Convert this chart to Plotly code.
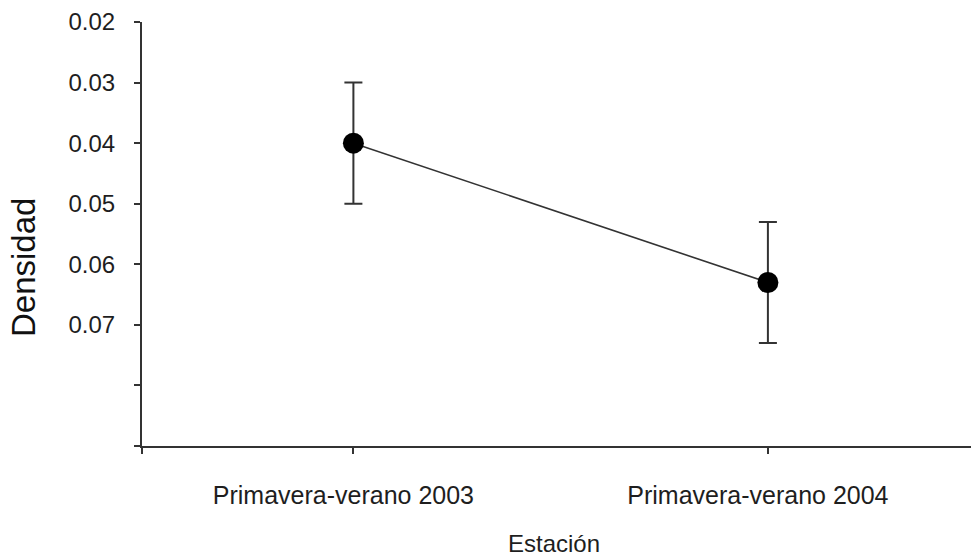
import plotly.graph_objects as go

# ---- data ----
categories = ["Primavera-verano 2003", "Primavera-verano 2004"]
densidad = [0.040, 0.063]
error = [0.010, 0.010]
y_tick_values = [0.02, 0.03, 0.04, 0.05, 0.06, 0.07, 0.08, 0.09]
y_tick_labels = ["0.02", "0.03", "0.04", "0.05", "0.06", "0.07", "", ""]
x_title = "Estación"
y_title = "Densidad"

x_pos = [i + 1 for i in range(len(categories))]

W, H = 971, 560
ML, MR, MT, MB = 142, 0, 22, 114
plot_h = H - MT - MB

FONT = "Liberation Sans, Arial, Helvetica, sans-serif"
DARK = "#1e1e1e"

fig = go.Figure()
fig.add_trace(go.Scatter(
    x=x_pos, y=densidad,
    mode="lines+markers",
    line=dict(color="#333333", width=1.6),
    marker=dict(color="black", size=21),
    error_y=dict(type="data", array=error, visible=True,
                 color="#333333", thickness=2, width=9),
    showlegend=False,
    cliponaxis=False,
))

fig.update_layout(
    width=W, height=H,
    margin=dict(l=ML, r=MR, t=MT, b=MB),
    paper_bgcolor="white", plot_bgcolor="white",
    font=dict(family=FONT, color=DARK, size=24),
    xaxis=dict(
        range=[0.49, 2.49],
        tickvals=[0.49] + x_pos,
        ticktext=[""] + categories,
        ticks="outside", ticklen=6, tickwidth=1.5, tickcolor="#333333",
        showline=True, linecolor="#333333", linewidth=2,
        showgrid=False, zeroline=False,
        tickfont=dict(size=25, family=FONT, color=DARK),
        ticklabelstandoff=20,
        ticklabelshift=-10,
    ),
    yaxis=dict(
        range=[0.09, 0.02],
        tickvals=y_tick_values,
        ticktext=y_tick_labels,
        ticks="outside", ticklen=6, tickwidth=1.5, tickcolor="#333333",
        showline=True, linecolor="#333333", linewidth=2,
        showgrid=False, zeroline=False,
        tickfont=dict(size=24, family=FONT, color=DARK),
        ticklabelstandoff=14,
    ),
    annotations=[
        dict(text=x_title, xref="paper", yref="paper",
             x=(554 - ML) / (W - ML), y=-(559 - (H - MB)) / plot_h,
             xanchor="center", yanchor="bottom", showarrow=False,
             font=dict(size=24, family=FONT, color=DARK)),
        dict(text=y_title, xref="paper", yref="paper",
             x=-(ML - 23) / (W - ML), y=1 - (268 - MT) / plot_h,
             xanchor="center", yanchor="middle", textangle=-90, showarrow=False,
             font=dict(size=33, family=FONT, color="#111111")),
    ],
)

fig.write_html("out.html")
